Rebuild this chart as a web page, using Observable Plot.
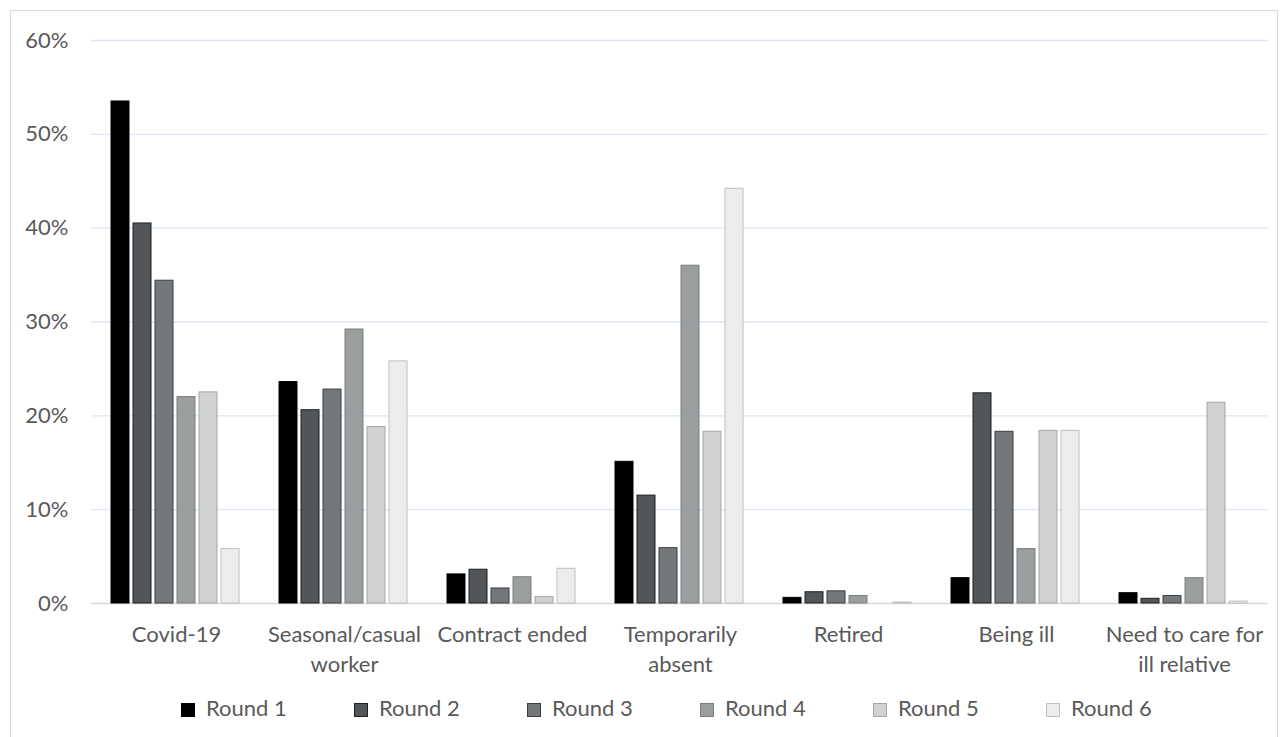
<!DOCTYPE html>
<html>
<head>
<meta charset="utf-8">
<script src="https://cdn.jsdelivr.net/npm/d3@7"></script>
<script src="https://cdn.jsdelivr.net/npm/@observablehq/plot@0.6"></script>
<style>
  html, body { margin: 0; padding: 0; background: #fff; }
  body { width: 1288px; height: 737px; position: relative; overflow: hidden; font-family: Lato, "Open Sans", sans-serif; }
  #frame { position: absolute; left: 10px; top: 10px; width: 1268px; height: 740px; border: 1px solid #d9d9d9; box-sizing: border-box; }
  .layer { position: absolute; left: 0; top: 0; }
  #legend { position: absolute; left: 181px; top: 695px; height: 26px; display: flex; align-items: center; font-size: 22px; line-height: 26px; color: #595959; }
  #legend .item { display: flex; align-items: center; width: 173px; }
  #legend .item:last-child { width: auto; }
  #legend .sw { width: 14px; height: 14px; box-sizing: border-box; border: 1px solid; margin-right: 11px; position: relative; top: 2px; }
</style>
</head>
<body>
<div id="frame"></div>
<div id="back" class="layer"></div>
<div id="front" class="layer"></div>
<div id="legend"></div>
<script>
// ---- data ----
const categories = ["Covid-19", "Seasonal/casual worker", "Contract ended", "Temporarily absent", "Retired", "Being ill", "Need to care for ill relative"];
const categoryLabels = ["Covid-19", "Seasonal/casual\nworker", "Contract ended", "Temporarily\nabsent", "Retired", "Being ill", "Need to care for\nill relative"];
const rounds = ["Round 1", "Round 2", "Round 3", "Round 4", "Round 5", "Round 6"];
const round1 = [53.5, 23.6, 3.1, 15.1, 0.6, 2.7, 1.1];
const round2 = [40.5, 20.6, 3.6, 11.5, 1.2, 22.4, 0.5];
const round3 = [34.4, 22.8, 1.6, 5.9, 1.3, 18.3, 0.8];
const round4 = [22.0, 29.2, 2.8, 36.0, 0.8, 5.8, 2.7];
const round5 = [22.5, 18.8, 0.7, 18.3, 0.0, 18.4, 21.4];
const round6 = [5.8, 25.8, 3.7, 44.2, 0.1, 18.4, 0.2];
const yTicks = [0, 10, 20, 30, 40, 50, 60];

// ---- styles ----
const fills = ["#000000", "#525659", "#73767a", "#9b9e9f", "#d0d1d1", "#ededed"];
const strokes = ["#000000", "#1f2122", "#3d4043", "#7b7e80", "#a5a7a7", "#bfbfbf"];

const series = [round1, round2, round3, round4, round5, round6];
const data = [];
rounds.forEach((r, i) => categories.forEach((c, j) => data.push({category: c, round: r, value: series[i][j]})));
const labelOf = new Map(categories.map((c, i) => [c, categoryLabels[i]]));

const frameOpts = {
  width: 1288,
  height: 690,
  marginLeft: 91,
  marginRight: 20,
  marginTop: 40,
  marginBottom: 87,
  style: {fontFamily: "Lato, 'Open Sans', sans-serif", fontSize: "22px", color: "#595959", background: "transparent"}
};
const catScale = {domain: categories, paddingInner: 0.22, paddingOuter: 0.11, label: null};
const yScale = {domain: [0, 60], label: null};

// background: grid, axes, baseline
const back = Plot.plot({
  ...frameOpts,
  x: {...catScale, axis: null},
  y: {...yScale, axis: null},
  marks: [
    Plot.ruleY(yTicks.filter(t => t > 0), {stroke: "#dde6f2", strokeWidth: 1.3}),
    Plot.axisY(yTicks, {tickSize: 0, tickPadding: 23, tickFormat: d => d + "%", fill: "#595959", fontSize: 22}),
    Plot.ruleY([0], {stroke: "#d9d9d9", strokeWidth: 1.5}),
    Plot.axisX({anchor: "bottom", tickSize: 0, tickPadding: 17, label: null, tickFormat: d => labelOf.get(d), lineHeight: 1.36, fill: "#595959", fontSize: 22})
  ]
});
document.getElementById("back").appendChild(back);

// foreground: grouped bars
const front = Plot.plot({
  ...frameOpts,
  fx: {...catScale, axis: null},
  x: {domain: rounds, paddingInner: 0.18, paddingOuter: 0, axis: null},
  y: {...yScale, axis: null},
  marks: rounds.map((r, i) => Plot.barY(data.filter(d => d.round === r), {
    fx: "category", x: "round", y: "value", fill: fills[i], stroke: strokes[i], strokeWidth: 1
  }))
});
document.getElementById("front").appendChild(front);

// legend
const legend = document.getElementById("legend");
rounds.forEach((r, i) => {
  const item = document.createElement("div");
  item.className = "item";
  const sw = document.createElement("span");
  sw.className = "sw";
  sw.style.background = fills[i];
  sw.style.borderColor = strokes[i];
  const t = document.createElement("span");
  t.textContent = r;
  item.appendChild(sw);
  item.appendChild(t);
  legend.appendChild(item);
});
</script>
</body>
</html>
